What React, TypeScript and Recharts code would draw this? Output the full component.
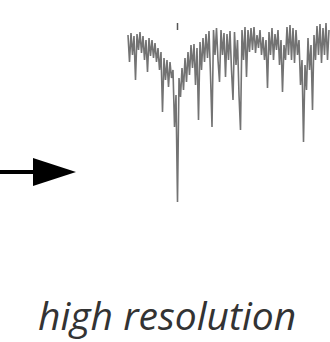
import { LineChart, Line, XAxis, YAxis, ReferenceLine } from 'recharts'

// relative flux, one sample per channel (1 = continuum)
const flux = [
  0.925, 0.79, 0.935, 0.825, 0.92, 0.7, 0.93, 0.85, 0.94, 0.835,
  0.92, 0.8, 0.9, 0.74, 0.91, 0.82, 0.9, 0.81, 0.885, 0.79,
  0.86, 0.75, 0.84, 0.54, 0.81, 0.7, 0.8, 0.665, 0.79, 0.71,
  0.75, 0.465, 0.625, 0.09, 0.71, 0.615, 0.76, 0.65, 0.81, 0.69,
  0.84, 0.725, 0.875, 0.76, 0.88, 0.675, 0.86, 0.5, 0.89, 0.75,
  0.91, 0.79, 0.93, 0.81, 0.945, 0.725, 0.465, 0.95, 0.825, 0.96,
  0.8, 0.69, 0.95, 0.825, 0.935, 0.715, 0.93, 0.8, 0.945, 0.75,
  0.6, 0.94, 0.775, 0.9, 0.625, 0.45, 0.95, 0.8, 0.965, 0.715,
  0.95, 0.84, 0.96, 0.85, 0.965, 0.835, 0.925, 0.86, 0.95, 0.825,
  0.915, 0.8, 0.9, 0.66, 0.94, 0.825, 0.96, 0.8, 0.93, 0.85,
  0.95, 0.775, 0.9, 0.64, 0.875, 0.8, 0.965, 0.825, 0.975, 0.8,
  0.96, 0.785, 0.95, 0.825, 0.9, 0.675, 0.8, 0.39, 0.775, 0.65,
  0.91, 0.75, 0.875, 0.55, 0.925, 0.8, 0.97, 0.825, 0.98, 0.785,
  0.96, 0.825, 0.985, 0.8, 0.95,
]

const data = flux.map((f, i) => ({ ch: i, f }))

// small isolated emission spike above the deep line
const spikeChannel = 33
const spikeRange = [0.985, 0.95]

const label = 'high resolution'

export default function App() {
  return (
    <div style={{ position: 'absolute', left: 0, top: 0, width: 330, height: 342, background: '#fff' }}>
      <LineChart
        width={330}
        height={342}
        data={data}
        margin={{ top: 20, right: 1, left: 128, bottom: 122 }}
      >
        <XAxis dataKey="ch" hide />
        <YAxis hide domain={[0, 1]} />
        <Line
          type="linear"
          dataKey="f"
          stroke="#737373"
          strokeWidth={1.6}
          dot={false}
          isAnimationActive={false}
        />
        <ReferenceLine
          segment={[
            { x: spikeChannel, y: spikeRange[0] },
            { x: spikeChannel, y: spikeRange[1] },
          ]}
          stroke="#555"
          strokeWidth={1.5}
        />
      </LineChart>
      <svg
        width={330}
        height={342}
        style={{ position: 'absolute', left: 0, top: 0, pointerEvents: 'none' }}
      >
        <line x1={0} y1={172} x2={36} y2={172} stroke="#000" strokeWidth={4} />
        <polygon points="33,158 76,172 33,186" fill="#000" />
        <text
          x={38}
          y={330}
          fontFamily="'Open Sans', sans-serif"
          fontStyle="italic"
          fontSize={39}
          fill="#333"
        >
          {label}
        </text>
      </svg>
    </div>
  )
}
